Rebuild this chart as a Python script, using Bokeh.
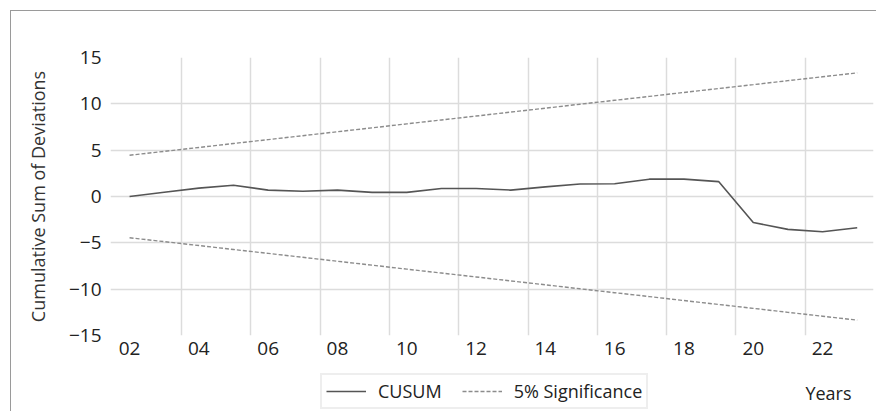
from bokeh.plotting import figure
from bokeh.layouts import column
from bokeh.models import FixedTicker, Legend, LegendItem, Label, Range1d
from bokeh.embed import file_html
from bokeh.resources import INLINE

# ---- data ----
years = [2002, 2003, 2004, 2005, 2006, 2007, 2008, 2009, 2010, 2011, 2012,
         2013, 2014, 2015, 2016, 2017, 2018, 2019, 2020, 2021, 2022, 2023]
cusum = [0.0, 0.45, 0.9, 1.22, 0.69, 0.56, 0.69, 0.45, 0.45, 0.86, 0.86,
         0.69, 1.04, 1.35, 1.38, 1.87, 1.87, 1.61, -2.8, -3.55, -3.8, -3.37]
upper_5pct = [4.45, 4.87, 5.29, 5.72, 6.14, 6.56, 6.99, 7.41, 7.84, 8.26, 8.68,
              9.11, 9.53, 9.96, 10.38, 10.80, 11.23, 11.65, 12.07, 12.50, 12.92, 13.34]
lower_5pct = [-4.45, -4.87, -5.29, -5.72, -6.14, -6.56, -6.99, -7.41, -7.84, -8.26, -8.68,
              -9.11, -9.53, -9.96, -10.38, -10.80, -11.23, -11.65, -12.07, -12.50, -12.92, -13.34]
x_tick_years = [2002, 2004, 2006, 2008, 2010, 2012, 2014, 2016, 2018, 2020, 2022]
x_tick_labels = ["02", "04", "06", "08", "10", "12", "14", "16", "18", "20", "22"]
x_grid_positions = [2003.5, 2005.5, 2007.5, 2009.5, 2011.5, 2013.5, 2015.5, 2017.5, 2019.5, 2021.5]
y_ticks = [-15, -10, -5, 0, 5, 10, 15]
y_grid_positions = [-10, -5, 0, 5, 10]
legend_labels = ["CUSUM", "5% Significance"]
x_title = "Years"
y_title = "Cumulative Sum of Deviations"

FONT = "Open Sans"
CUSUM_COLOR = "#555555"
BAND_COLOR = "#8c8c8c"
W = 866

# ---------------- main chart ----------------
p = figure(width=W, height=361, output_backend="svg", toolbar_location=None,
           x_range=(2001.45, 2023.47), y_range=(-15, 15),
           min_border_left=99, min_border_right=4, min_border_top=46, min_border_bottom=37,
           styles={"margin-left": "10px", "margin-top": "10px",
                   "border-left": "1px solid #9a9a9a", "border-top": "1px solid #9a9a9a"})
p.outline_line_color = None
p.background_fill_color = "white"
p.border_fill_color = "white"

for ax in (p.xaxis[0], p.yaxis[0]):
    ax.axis_line_color = None
    ax.major_tick_line_color = None
    ax.minor_tick_line_color = None
    ax.major_tick_out = 0
    ax.major_tick_in = 0
    ax.major_label_text_font = FONT
    ax.major_label_text_font_size = "19px"
    ax.major_label_text_color = "#222222"

p.xaxis.ticker = FixedTicker(ticks=x_tick_years)
p.xaxis.major_label_overrides = {y: l for y, l in zip(x_tick_years, x_tick_labels)}
p.xaxis.major_label_standoff = 6

p.yaxis.ticker = FixedTicker(ticks=y_ticks)
p.yaxis.major_label_standoff = 9
p.yaxis.axis_label = y_title
p.yaxis.axis_label_text_font = FONT
p.yaxis.axis_label_text_font_size = "18px"
p.yaxis.axis_label_text_font_style = "normal"
p.yaxis.axis_label_text_color = "#333333"
p.yaxis.axis_label_standoff = 16

p.xgrid.ticker = FixedTicker(ticks=x_grid_positions)
p.ygrid.ticker = FixedTicker(ticks=y_grid_positions)
for g in (p.xgrid[0], p.ygrid[0]):
    g.grid_line_color = "#dcdcdc"
    g.grid_line_width = 1.5

p.line(years, cusum, line_color=CUSUM_COLOR, line_width=1.6)
p.line(years, upper_5pct, line_color=BAND_COLOR, line_width=1.4, line_dash="4 2")
p.line(years, lower_5pct, line_color=BAND_COLOR, line_width=1.4, line_dash="4 2")

# ---------------- legend strip (frame is aligned with the chart's frame) ----------------
q = figure(width=W, height=40, output_backend="svg", toolbar_location=None,
           x_range=(2001.45, 2023.47), y_range=Range1d(100, 101),
           x_axis_type=None, y_axis_type=None,
           min_border_left=0, min_border_right=0, min_border_top=0, min_border_bottom=0,
           styles={"margin-left": "10px", "border-left": "1px solid #9a9a9a"})
q.outline_line_color = None
q.background_fill_color = "white"
q.border_fill_color = "white"
# same series, only used as legend swatches (range keeps them out of view)
l_cusum = q.line(years, cusum, line_color=CUSUM_COLOR, line_width=1.6)
l_band = q.line(years, upper_5pct, line_color=BAND_COLOR, line_width=1.4, line_dash="4 2")

legend = Legend(items=[LegendItem(label=legend_labels[0], renderers=[l_cusum]),
                       LegendItem(label=legend_labels[1], renderers=[l_band])],
                orientation="horizontal", location=(210, 2), margin=0,
                padding=4, spacing=20, glyph_width=40, glyph_height=14, label_standoff=12,
                label_height=14,
                label_text_font=FONT, label_text_font_size="18px", label_text_color="#222222",
                border_line_color="#dddddd", border_line_width=2,
                background_fill_color="white", background_fill_alpha=1.0)
q.add_layout(legend, "center")

q.add_layout(Label(x=718, y=19, x_units="screen", y_units="screen", text=x_title,
                   text_align="center", text_baseline="middle", text_font=FONT,
                   text_font_size="18px", text_color="#222222"))

layout = column(p, q, spacing=0)
open("out.html", "w").write(file_html(layout, INLINE))
